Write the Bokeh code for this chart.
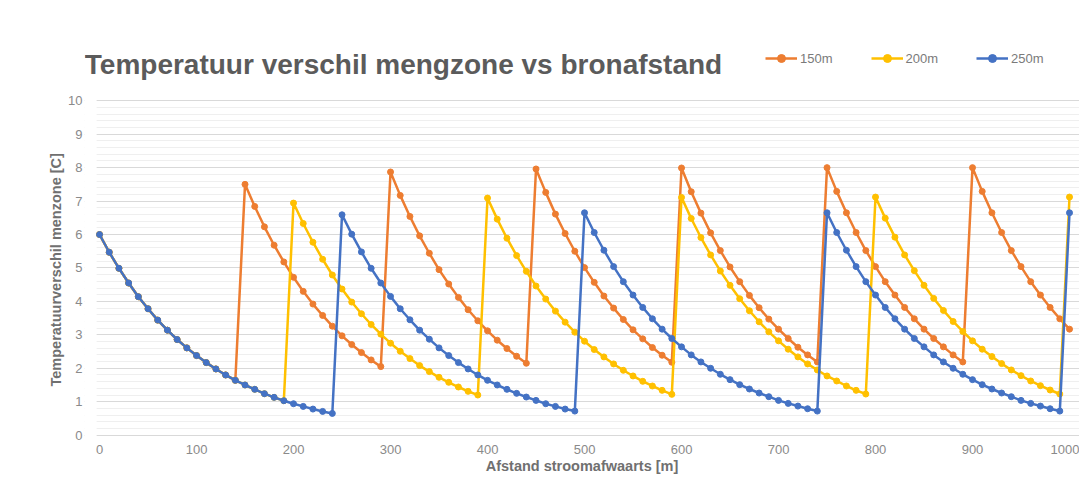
from bokeh.plotting import figure
from bokeh.models import (Range1d, FixedTicker, SingleIntervalTicker, Label, Legend,
                          LegendItem, ColumnDataSource, BoxAnnotation, Title)
from bokeh.embed import file_html
from bokeh.resources import INLINE

# ---------------- data ----------------
afstand = list(range(0, 1001, 10))  # Afstand stroomafwaarts [m]

serie_150m = [
    6.00, 5.47, 4.99, 4.55, 4.14, 3.78, 3.44, 3.14, 2.86, 2.61,
    2.38, 2.17, 1.98, 1.80, 1.64, 7.50, 6.84, 6.23, 5.68, 5.18,
    4.72, 4.30, 3.92, 3.58, 3.26, 2.97, 2.71, 2.47, 2.25, 2.05,
    7.87, 7.17, 6.54, 5.96, 5.44, 4.95, 4.52, 4.12, 3.75, 3.42,
    3.12, 2.84, 2.59, 2.36, 2.15, 7.96, 7.26, 6.61, 6.03, 5.50,
    5.01, 4.57, 4.16, 3.80, 3.46, 3.15, 2.88, 2.62, 2.39, 2.18,
    7.99, 7.28, 6.64, 6.05, 5.52, 5.03, 4.59, 4.18, 3.81, 3.47,
    3.17, 2.89, 2.63, 2.40, 2.19, 8.00, 7.29, 6.65, 6.06, 5.52,
    5.04, 4.59, 4.19, 3.82, 3.48, 3.17, 2.89, 2.64, 2.40, 2.19,
    8.00, 7.29, 6.65, 6.06, 5.52, 5.04, 4.59, 4.19, 3.82, 3.48,
    3.17,
]

serie_200m = [
    6.00, 5.47, 4.99, 4.55, 4.14, 3.78, 3.44, 3.14, 2.86, 2.61,
    2.38, 2.17, 1.98, 1.80, 1.64, 1.50, 1.37, 1.24, 1.13, 1.03,
    6.94, 6.33, 5.77, 5.26, 4.79, 4.37, 3.98, 3.63, 3.31, 3.02,
    2.75, 2.51, 2.29, 2.08, 1.90, 1.73, 1.58, 1.44, 1.31, 1.20,
    7.09, 6.46, 5.89, 5.37, 4.90, 4.46, 4.07, 3.71, 3.38, 3.08,
    2.81, 2.56, 2.34, 2.13, 1.94, 1.77, 1.61, 1.47, 1.34, 1.22,
    7.11, 6.48, 5.91, 5.39, 4.91, 4.48, 4.08, 3.72, 3.39, 3.09,
    2.82, 2.57, 2.34, 2.13, 1.95, 1.77, 1.62, 1.47, 1.34, 1.23,
    7.12, 6.49, 5.92, 5.39, 4.92, 4.48, 4.09, 3.73, 3.40, 3.10,
    2.82, 2.57, 2.35, 2.14, 1.95, 1.78, 1.62, 1.48, 1.35, 1.23,
    7.12,
]

serie_250m = [
    6.00, 5.47, 4.99, 4.55, 4.14, 3.78, 3.44, 3.14, 2.86, 2.61,
    2.38, 2.17, 1.98, 1.80, 1.64, 1.50, 1.37, 1.24, 1.13, 1.03,
    0.94, 0.86, 0.78, 0.71, 0.65, 6.59, 6.01, 5.48, 4.99, 4.55,
    4.15, 3.78, 3.45, 3.14, 2.87, 2.61, 2.38, 2.17, 1.98, 1.80,
    1.64, 1.50, 1.37, 1.25, 1.14, 1.04, 0.94, 0.86, 0.78, 0.72,
    6.65, 6.06, 5.53, 5.04, 4.59, 4.19, 3.82, 3.48, 3.17, 2.89,
    2.64, 2.40, 2.19, 2.00, 1.82, 1.66, 1.51, 1.38, 1.26, 1.15,
    1.04, 0.95, 0.87, 0.79, 0.72, 6.65, 6.06, 5.53, 5.04, 4.59,
    4.19, 3.82, 3.48, 3.17, 2.89, 2.64, 2.40, 2.19, 2.00, 1.82,
    1.66, 1.51, 1.38, 1.26, 1.15, 1.04, 0.95, 0.87, 0.79, 0.72,
    6.65,
]

series_names = ["150m", "200m", "250m"]
series_values = [serie_150m, serie_200m, serie_250m]
series_colors = ["#ED7D31", "#FFC000", "#4472C4"]

y_ticks = [0, 1, 2, 3, 4, 5, 6, 7, 8, 9, 10]

title_text = "Temperatuur verschil mengzone vs bronafstand"
x_label = "Afstand stroomafwaarts [m]"
y_label = "Temperatuurverschil menzone [C]"

FONT = "Liberation Sans"

# ---------------- figure ----------------
# frame is extended upward/leftward so that the title and legend live inside it
p = figure(width=1079, height=482, output_backend="svg", toolbar_location=None,
           x_range=Range1d(-15.5, 1010.3), y_range=Range1d(-0.1, 12.4),
           min_border_left=84, min_border_right=0, min_border_top=20,
           min_border_bottom=44)
p.outline_line_color = None
p.background_fill_color = "white"
p.border_fill_color = "white"

# grid
p.xgrid.grid_line_color = None
p.ygrid.grid_line_color = "#d9d9d9"
p.ygrid.grid_line_width = 1
p.ygrid.minor_grid_line_color = "#efefef"
p.ygrid.minor_grid_line_width = 1

# white mask so that grid lines start where the plot area starts
p.add_layout(BoxAnnotation(right=-3.0, fill_color="white", fill_alpha=1.0,
                           line_alpha=0, level="underlay"))

items = []
for name, vals, col in zip(series_names, series_values, series_colors):
    src = ColumnDataSource(dict(x=afstand, y=vals))
    ln = p.line("x", "y", source=src, line_color=col, line_width=2.5)
    sc = p.scatter("x", "y", source=src, size=6, fill_color=col, line_color=col)
    items.append(LegendItem(label=name, renderers=[ln, sc]))

# axes
p.xaxis.ticker = SingleIntervalTicker(interval=100)
p.yaxis.ticker = FixedTicker(ticks=y_ticks,
                             minor_ticks=[i / 5 for i in range(0, 51)])
for ax in (p.xaxis[0], p.yaxis[0]):
    ax.axis_line_color = None
    ax.major_tick_line_color = None
    ax.minor_tick_line_color = None
    ax.major_tick_out = 0
    ax.major_tick_in = 0
    ax.minor_tick_out = 0
    ax.minor_tick_in = 0
    ax.major_label_text_font = FONT
    ax.major_label_text_font_size = "13px"
    ax.major_label_text_color = "#8a8a8a"
    ax.axis_label_text_font = FONT
    ax.axis_label_text_font_size = "14.5px"
    ax.axis_label_text_font_style = "bold"
    ax.axis_label_text_color = "#707070"

p.xaxis.axis_label = x_label
p.xaxis.major_label_standoff = 6
p.xaxis.axis_label_standoff = 1
p.yaxis.major_label_standoff = 2

# y-axis title, centred on the 0..10 part of the axis
p.add_layout(Title(text=y_label, align="left", offset=52, standoff=4,
                   text_font=FONT, text_font_size="14.5px",
                   text_font_style="bold", text_color="#707070"), "left")

# chart title
p.add_layout(Label(x=-15.2, y=11.09, text=title_text, text_font=FONT,
                   text_font_size="28px", text_font_style="bold",
                   text_color="#5b5b5b", text_baseline="alphabetic"))

# legend
legend = Legend(items=items, orientation="horizontal", location=(681, 370),
                padding=0, margin=0, spacing=38, glyph_width=32, glyph_height=20,
                label_standoff=3, border_line_color=None,
                background_fill_alpha=0, label_text_font=FONT,
                label_text_font_size="13px", label_text_color="#7a7a7a")
p.add_layout(legend)

open("out.html", "w").write(file_html(p, INLINE))
